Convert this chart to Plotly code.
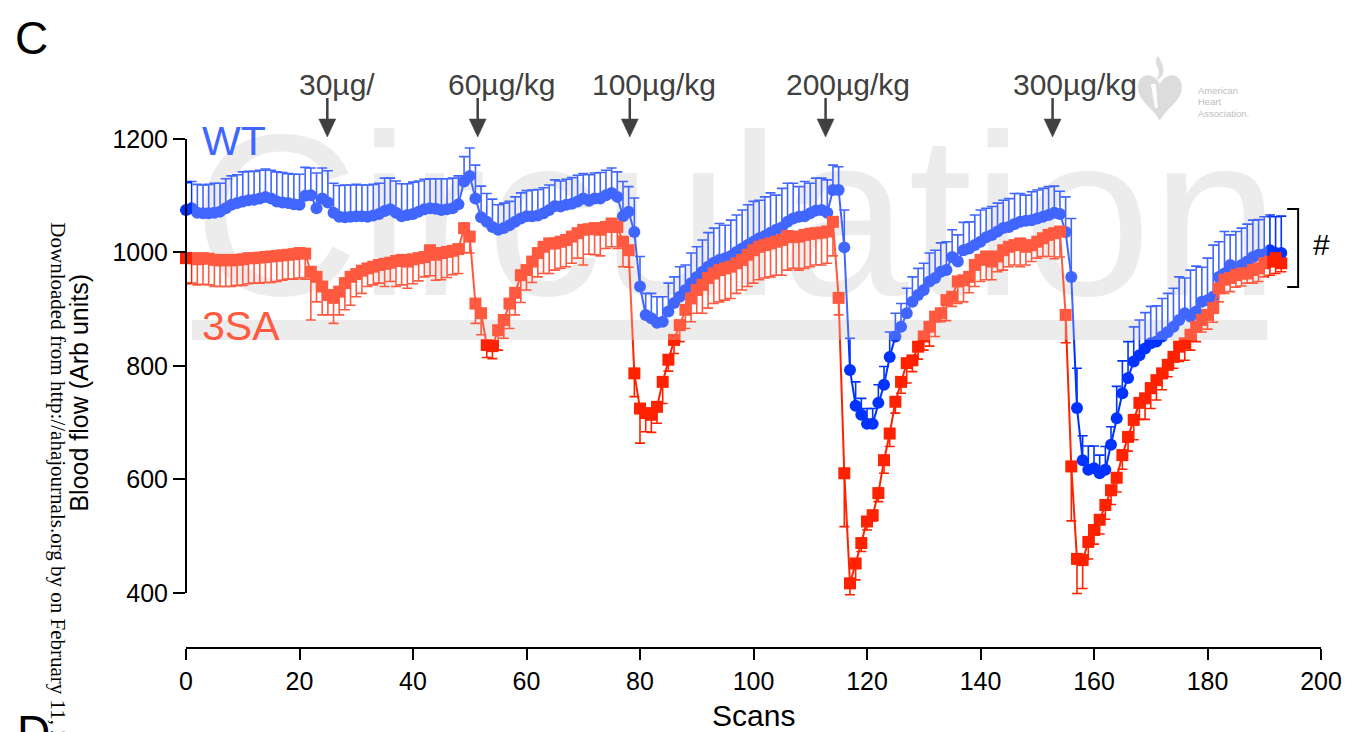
import plotly.graph_objects as go

# ---------------- data ----------------
scans = list(range(194))

wt_mean = [
    1075, 1078, 1070, 1069, 1069, 1070, 1072, 1078, 1084, 1087,
    1090, 1092, 1093, 1095, 1098, 1095, 1090, 1088, 1087, 1085,
    1084, 1100, 1101, 1078, 1095, 1088, 1070, 1063, 1062, 1063,
    1064, 1064, 1063, 1065, 1068, 1073, 1076, 1070, 1064, 1066,
    1068, 1072, 1076, 1078, 1077, 1075, 1076, 1078, 1085, 1125,
    1135, 1095, 1062, 1054, 1045, 1040, 1043, 1048, 1054, 1060,
    1064, 1064, 1065, 1069, 1075, 1082, 1081, 1084, 1086, 1090,
    1095, 1091, 1095, 1095, 1101, 1105, 1098, 1064, 1072, 1036,
    940, 890, 884, 876, 878, 896, 911, 922, 934, 946,
    957, 966, 975, 982, 987, 990, 994, 1001, 1007, 1013,
    1019, 1025, 1029, 1035, 1040, 1044, 1054, 1060, 1063, 1064,
    1069, 1074, 1075, 1070, 1110, 1110, 1009, 793, 730, 714,
    698, 698, 735, 767, 816, 852, 869, 893, 913, 925,
    934, 949, 955, 966, 969, 992, 984, 1004, 1007, 1013,
    1019, 1027, 1031, 1037, 1043, 1045, 1050, 1054, 1056, 1057,
    1060, 1063, 1066, 1070, 1068, 1036, 957, 726, 634, 617,
    620, 611, 617, 661, 708, 752, 779, 808, 819, 831,
    840, 843, 852, 860, 869, 881, 893, 887, 896, 913,
    916, 922, 957, 963, 978, 972, 978, 984, 992, 996,
    997, 1004, 999, 999,
]
wt_sem = [
    48, 47, 50, 50, 51, 52, 50, 52, 51, 50,
    52, 51, 50, 50, 49, 50, 52, 53, 52, 53,
    54, 50, 48, 62, 54, 56, 52, 55, 57, 56,
    56, 55, 56, 55, 54, 58, 55, 56, 57, 55,
    56, 54, 53, 52, 53, 55, 54, 53, 50, 44,
    49, 59, 55, 50, 49, 44, 44, 42, 44, 45,
    45, 46, 46, 45, 44, 46, 45, 45, 46, 46,
    44, 46, 45, 46, 44, 44, 44, 61, 44, 60,
    53, 38, 44, 46, 44, 50, 46, 53, 44, 53,
    53, 56, 60, 61, 64, 58, 63, 65, 68, 71,
    71, 67, 69, 70, 61, 69, 68, 62, 53, 61,
    53, 57, 56, 58, 44, 41, 66, 56, 42, 29,
    27, 27, 32, 32, 44, 41, 41, 44, 44, 47,
    47, 50, 49, 51, 50, 48, 47, 49, 47, 53,
    56, 51, 50, 50, 49, 50, 54, 50, 45, 50,
    50, 50, 50, 47, 40, 62, 103, 70, 43, 42,
    39, 32, 41, 32, 56, 57, 64, 61, 62, 63,
    65, 63, 67, 68, 68, 76, 62, 82, 80, 61,
    74, 91, 62, 74, 53, 65, 65, 66, 65, 62,
    66, 62, 64, 65,
]
sa_mean = [
    990, 990, 988, 990, 989, 987, 986, 987, 986, 987,
    988, 990, 990, 991, 992, 993, 994, 995, 996, 997,
    999, 998, 966, 957, 940, 925, 920, 931, 946, 957,
    962, 968, 972, 975, 978, 980, 982, 985, 987, 984,
    988, 990, 992, 1004, 996, 999, 1001, 1003, 1006, 1043,
    1028, 910, 893, 837, 835, 863, 881, 910, 929, 960,
    969, 984, 999, 1010, 1016, 1016, 1019, 1022, 1028, 1034,
    1040, 1041, 1043, 1040, 1045, 1051, 1045, 1019, 1004, 787,
    725, 717, 714, 728, 772, 811, 846, 872, 899, 919,
    934, 943, 955, 963, 969, 972, 975, 981, 987, 996,
    1004, 1010, 1013, 1016, 1019, 1022, 1029, 1027, 1028, 1031,
    1033, 1034, 1035, 1037, 1054, 920, 611, 417, 452, 488,
    526, 537, 576, 634, 681, 737, 772, 805, 810, 834,
    852, 869, 887, 893, 916, 922, 949, 951, 957, 978,
    987, 993, 984, 993, 1004, 1010, 1013, 1016, 1010, 1013,
    1019, 1025, 1031, 1034, 1037, 890, 623, 460, 458, 490,
    511, 529, 555, 581, 603, 643, 675, 705, 735, 743,
    761, 775, 787, 802, 816, 834, 840, 855, 869, 881,
    890, 902, 937, 952, 955, 960, 963, 963, 969, 972,
    981, 984, 990, 981,
]
sa_sem = [
    45, 44, 45, 46, 46, 47, 46, 47, 46, 45,
    46, 45, 44, 45, 45, 46, 45, 44, 43, 44,
    44, 45, 85, 44, 50, 35, 45, 41, 47, 50,
    40, 40, 32, 32, 32, 40, 33, 45, 44, 47,
    43, 40, 35, 45, 45, 47, 45, 42, 43, 43,
    29, 35, 38, 22, 22, 35, 32, 44, 39, 48,
    35, 37, 42, 47, 53, 47, 47, 47, 47, 44,
    62, 44, 47, 46, 38, 41, 38, 44, 30, 41,
    61, 33, 31, 29, 38, 20, 24, 29, 33, 41,
    41, 50, 53, 53, 56, 56, 56, 53, 53, 56,
    58, 58, 58, 59, 59, 62, 60, 55, 59, 59,
    58, 56, 57, 56, 60, 30, 94, 20, 29, 15,
    15, 10, 15, 23, 23, 20, 20, 35, 20, 22,
    24, 34, 35, 15, 36, 17, 39, 38, 28, 38,
    38, 41, 32, 27, 35, 35, 35, 41, 32, 29,
    29, 32, 38, 45, 45, 49, 96, 61, 50, 30,
    25, 25, 25, 25, 25, 25, 25, 35, 29, 37,
    36, 35, 29, 21, 20, 26, 30, 27, 26, 21,
    25, 25, 24, 24, 24, 21, 22, 17, 23, 23,
    24, 24, 27, 15,
]

y_ticks = [400, 600, 800, 1000, 1200]
x_ticks = [0, 20, 40, 60, 80, 100, 120, 140, 160, 180, 200]
dose_labels = ["30\u00b5g/", "60\u00b5g/kg", "100\u00b5g/kg", "200\u00b5g/kg", "300\u00b5g/kg"]
dose_scans = [24.9, 51.4, 78.2, 112.7, 152.7]
series_names = ["WT", "3SA"]
logo_lines = ["American", "Heart", "Association."]

# ---------------- style / layout helpers ----------------
BLUE = "rgb(0,51,255)"
RED = "rgb(255,34,0)"
SANS = "Liberation Sans, Arial, Helvetica, sans-serif"
SERIF = "Liberation Serif, Times New Roman, serif"

FIG_W, FIG_H = 1354, 732
L, R, T, B = 186, 1327, 60, 647
W, H = R - L, B - T
X_RANGE = [0, 200]
Y_RANGE = [304.8, 1339.2]


def px(x):
    return (x - L) / W


def py(y):
    return (B - y) / H


def yval_paper(v):
    return (v - Y_RANGE[0]) / (Y_RANGE[1] - Y_RANGE[0])


n = len(scans)
fig = go.Figure()

# watermark text (behind data)
fig.add_trace(go.Scatter(
    x=[96.9], y=[1026], mode="text", text=["Circulation"],
    textposition="middle center",
    textfont=dict(size=230, color="#e6e6e6", family=SANS),
    hoverinfo="skip", showlegend=False, cliponaxis=False,
))

fig.add_trace(go.Scatter(
    x=scans, y=wt_mean, name=series_names[0], mode="lines+markers",
    line=dict(color=BLUE, width=2),
    marker=dict(symbol="circle", size=12, color=BLUE),
    error_y=dict(type="data", symmetric=False, array=wt_sem,
                 arrayminus=[0] * n, color=BLUE, thickness=1.6, width=5),
    cliponaxis=False, showlegend=False, hoverinfo="x+y",
))
fig.add_trace(go.Scatter(
    x=scans, y=sa_mean, name=series_names[1], mode="lines+markers",
    line=dict(color=RED, width=2),
    marker=dict(symbol="square", size=12, color=RED),
    error_y=dict(type="data", symmetric=False, array=[0] * n,
                 arrayminus=sa_sem, color=RED, thickness=1.6, width=5),
    cliponaxis=False, showlegend=False, hoverinfo="x+y",
))

shapes = []
# watermark underline band (below data)
shapes.append(dict(type="rect", xref="paper", yref="paper",
                   x0=px(192), x1=px(1273), y0=py(340), y1=py(320),
                   fillcolor="#e6e6e6", line=dict(width=0), layer="below"))
# semi-transparent watermark veil over the upper part
shapes.append(dict(type="rect", xref="paper", yref="paper",
                   x0=px(192), x1=px(1273), y0=py(340), y1=py(55),
                   fillcolor="rgba(255,255,255,0.25)", line=dict(width=0),
                   layer="above"))
# y axis line (only 400..1200)
shapes.append(dict(type="line", xref="paper", yref="paper",
                   x0=0, x1=0, y0=yval_paper(y_ticks[0]), y1=yval_paper(y_ticks[-1]),
                   line=dict(color="black", width=2), layer="above"))
# dose arrows
for d in dose_scans:
    xp = d / (X_RANGE[1] - X_RANGE[0])
    shapes.append(dict(type="line", xref="paper", yref="paper",
                       x0=xp, x1=xp, y0=py(98), y1=py(122),
                       line=dict(color="#404040", width=2.5), layer="above"))
    hw = 8.5 / W
    shapes.append(dict(type="path", xref="paper", yref="paper",
                       path=f"M {xp - hw} {py(119)} L {xp + hw} {py(119)} L {xp} {py(137)} Z",
                       fillcolor="#404040", line=dict(color="#404040", width=0.5),
                       layer="above"))
# significance bracket
shapes.append(dict(type="path", xref="paper", yref="paper",
                   path=(f"M {px(1293)} {py(209)} L {px(1304)} {py(209)} "
                         f"L {px(1304)} {py(287)} L {px(1293)} {py(287)}"),
                   line=dict(color="black", width=2), layer="above"))


def pth(points):
    """build a path string from pixel-space commands."""
    out = []
    for cmd, *coords in points:
        parts = [cmd]
        for i in range(0, len(coords), 2):
            parts.append(f"{px(coords[i])},{py(coords[i + 1])}")
        out.append(" ".join(parts))
    return " ".join(out) + " Z"


# faint AHA heart-and-torch logo
shapes.append(dict(type="path", xref="paper", yref="paper",
                   path=pth([("M", 1165, 84),
                             ("C", 1158, 70, 1141, 73, 1143, 90),
                             ("C", 1145, 102, 1160, 110, 1165, 121),
                             ("C", 1170, 110, 1185, 102, 1187, 90),
                             ("C", 1189, 73, 1172, 70, 1165, 84)]),
                   fillcolor="#dcdcdc", line=dict(width=0), layer="above"))
shapes.append(dict(type="path", xref="paper", yref="paper",
                   path=pth([("M", 1163, 56),
                             ("C", 1156, 64, 1170, 70, 1161, 80),
                             ("C", 1172, 76, 1170, 66, 1163, 56)]),
                   fillcolor="#dcdcdc", line=dict(width=0), layer="above"))
shapes.append(dict(type="path", xref="paper", yref="paper",
                   path=pth([("M", 1156, 84), ("L", 1161, 84), ("L", 1163, 108),
                             ("L", 1160, 108)]),
                   fillcolor="white", line=dict(width=0), layer="above"))

annotations = []


def ann(text, x, y, size, color="black", family=SANS, xanchor="center",
        yanchor="middle", angle=0):
    annotations.append(dict(text=text, x=px(x), y=py(y), xref="paper", yref="paper",
                            showarrow=False, xanchor=xanchor, yanchor=yanchor,
                            textangle=angle,
                            font=dict(size=size, color=color, family=family)))


ann("C", 31, 38, 46)
ann("D", 33, 732, 46)
ann(series_names[0], 234, 141, 41, color="rgb(64,102,255)")
ann(series_names[1], 241, 326, 41, color="rgb(255,89,64)")
label_left_px = [298, 447, 592, 787, 1015]
for lab, lx in zip(dose_labels, label_left_px):
    ann(lab, lx, 84, 30, color="#404040", xanchor="left")
ann("#", 1327, 244, 30)
ann("Blood flow (Arb units)", 78, 393, 25, angle=-90)
ann("Downloaded from http://ahajournals.org by on February 11, 2020", 57, 220, 21,
    family=SERIF, yanchor="top", angle=90)
ann("Scans", 757, 715, 30)
# AHA logo text
for k, line in enumerate(logo_lines):
    ann(line, 1201, 90 + 12 * k, 9.5, color="#bdbdbd", xanchor="left")

fig.update_layout(
    width=FIG_W, height=FIG_H, autosize=False,
    margin=dict(l=L, r=FIG_W - R, t=T, b=FIG_H - B, pad=0),
    paper_bgcolor="white", plot_bgcolor="white",
    showlegend=False,
    xaxis=dict(range=X_RANGE, tickvals=x_ticks, ticks="outside", ticklen=11,
               tickwidth=2, tickcolor="black", showline=True, linewidth=2,
               linecolor="black", showgrid=False, zeroline=False,
               tickfont=dict(size=25, color="black", family=SANS)),
    yaxis=dict(range=Y_RANGE, tickvals=y_ticks, ticks="outside", ticklen=12,
               tickwidth=2, tickcolor="black", showline=False, showgrid=False,
               zeroline=False, tickfont=dict(size=25, color="black", family=SANS)),
    shapes=shapes, annotations=annotations,
)

fig.write_html("out.html", config={"displayModeBar": False},
               post_script="document.body.style.margin='0';document.body.style.overflow='hidden';")
